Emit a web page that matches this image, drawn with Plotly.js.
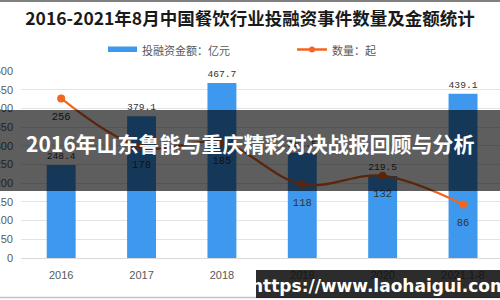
<!DOCTYPE html>
<html>
<head>
<meta charset="utf-8">
<script src="https://cdn.plot.ly/plotly-3.0.1.min.js"></script>
<style>
  html, body { margin: 0; padding: 0; overflow: hidden; background: #fff; }
  #chart { width: 500px; height: 300px; }
</style>
</head>
<body>
<div id="chart"></div>
<script>
// 2016–2021年8月 中国餐饮行业投融资：金额（亿元）与事件数量（起）
const years = ['2016', '2017', '2018', '2019', '2020', '2021.1-8'];
const amounts = [248.4, 379.1, 467.7, 281.5, 219.5, 439.1];
const counts = [256, 178, 185, 118, 132, 86];
const amountName = '投融资金额：亿元';
const countName = '数量：起';
const chartTitle = '2016-2021年8月中国餐饮行业投融资事件数量及金额统计';
const bannerText = '2016年山东鲁能与重庆精彩对决战报回顾与分析';
const siteText = 'https://www.laohaigui.com';

const W = 500, H = 300;
const M = { l: 21, r: 0, t: 71, b: 42 };
const PW = W - M.l - M.r, PH = H - M.t - M.b;
// pixel -> paper helpers for the decorations
const px = x => (x - M.l) / PW;
const py = y => (H - M.b - y) / PH;

const BLUE = '#3d98ee';
const ORANGE = '#f2661f';
const labelFont = { family: 'Liberation Mono, DejaVu Sans Mono, monospace', size: 10.5, color: '#333333' };
const tickFont = { family: 'Liberation Sans, Arial, sans-serif', size: 11, color: '#595959' };
const cjk = 'Noto Sans CJK SC, sans-serif';

const traces = [
  {
    type: 'bar', x: years, y: amounts, name: amountName,
    marker: { color: BLUE },
    text: amounts.map(v => v.toFixed(1)), textposition: 'outside',
    textfont: labelFont, cliponaxis: false, hoverinfo: 'skip'
  },
  {
    type: 'scatter', mode: 'lines+markers', x: years, y: counts, name: countName,
    yaxis: 'y2',
    line: { color: ORANGE, width: 2.3, shape: 'spline', smoothing: 1 },
    marker: { color: ORANGE, size: 8 },
    cliponaxis: false, hoverinfo: 'skip'
  },
  // count labels, set a little further below each point
  {
    type: 'scatter', mode: 'markers+text', x: years, y: counts, name: countName,
    yaxis: 'y2', showlegend: false,
    marker: { size: 20, opacity: 0 },
    text: counts.map(String), textposition: 'bottom center',
    textfont: labelFont, cliponaxis: false, hoverinfo: 'skip'
  }
];

const shapes = [
  // legend swatches
  { type: 'rect', xref: 'paper', yref: 'paper', x0: px(108), x1: px(137), y0: py(52), y1: py(46.5),
    fillcolor: BLUE, line: { width: 0 } },
  { type: 'line', xref: 'paper', yref: 'paper', x0: px(297), x1: px(327), y0: py(49.5), y1: py(49.5),
    line: { color: ORANGE, width: 2.5 } },
  { type: 'circle', xref: 'paper', yref: 'paper', x0: px(309), x1: px(315), y0: py(52.5), y1: py(46.5),
    fillcolor: ORANGE, line: { width: 0 } },
  // frame lines
  { type: 'line', xref: 'paper', yref: 'paper', x0: px(0), x1: px(500), y0: py(1), y1: py(1),
    line: { color: '#808080', width: 2 } },
  { type: 'line', xref: 'paper', yref: 'paper', x0: px(0), x1: px(500), y0: py(297.5), y1: py(297.5),
    line: { color: '#c4c4c4', width: 1.5 } },
  // headline band
  { type: 'rect', xref: 'paper', yref: 'paper', layer: 'above', x0: px(0), x1: px(500), y0: py(191), y1: py(110),
    fillcolor: 'rgba(0,0,0,0.63)', line: { width: 0 } },
  // site tag box
  { type: 'rect', xref: 'paper', yref: 'paper', layer: 'above', x0: px(256), x1: px(500), y0: py(298), y1: py(270),
    fillcolor: 'rgba(15,15,15,0.88)', line: { width: 0 } }
];

const annotations = [
  { xref: 'paper', yref: 'paper', x: px(140), y: py(49.5), xanchor: 'left', yanchor: 'middle',
    text: amountName, showarrow: false, font: { family: cjk, size: 11, color: '#595959' } },
  { xref: 'paper', yref: 'paper', x: px(330), y: py(49.5), xanchor: 'left', yanchor: 'middle',
    text: countName, showarrow: false, font: { family: cjk, size: 11, color: '#595959' } },
  { xref: 'paper', yref: 'paper', x: px(250), y: py(143), xanchor: 'center', yanchor: 'middle',
    text: bannerText, showarrow: false, font: { family: cjk, size: 21, color: '#ffffff', weight: 700 } },
  { xref: 'paper', yref: 'paper', x: px(379.5), y: py(286), xanchor: 'center', yanchor: 'middle',
    text: siteText, showarrow: false, font: { family: 'DejaVu Sans, sans-serif', size: 17, color: '#ffffff', weight: 700 } }
];

const layout = {
  width: W, height: H,
  margin: M,
  paper_bgcolor: '#ffffff', plot_bgcolor: '#ffffff',
  showlegend: false,
  title: {
    text: chartTitle, x: 0.5, xanchor: 'center', xref: 'container',
    y: 1 - 19 / H, yanchor: 'middle', yref: 'container',
    font: { family: cjk, size: 17.5, color: '#1a1a1a', weight: 700 }
  },
  bargap: 0.64,
  xaxis: {
    type: 'category', range: [-0.5, 5.46],
    showgrid: false, zeroline: false, showline: false, ticks: '',
    tickfont: tickFont, ticklabelstandoff: 9, fixedrange: true
  },
  yaxis: {
    range: [0, 500], dtick: 50, showgrid: true, gridcolor: '#e3e3e3', gridwidth: 1,
    zeroline: true, zerolinecolor: '#d9d9d9', zerolinewidth: 1,
    showline: false, ticks: '', tickfont: tickFont, ticklabelstandoff: 7, fixedrange: true
  },
  yaxis2: {
    range: [0, 300], overlaying: 'y', side: 'right', visible: false, fixedrange: true
  },
  shapes: shapes,
  annotations: annotations
};

Plotly.newPlot('chart', traces, layout, { displayModeBar: false, staticPlot: true });
</script>
</body>
</html>
